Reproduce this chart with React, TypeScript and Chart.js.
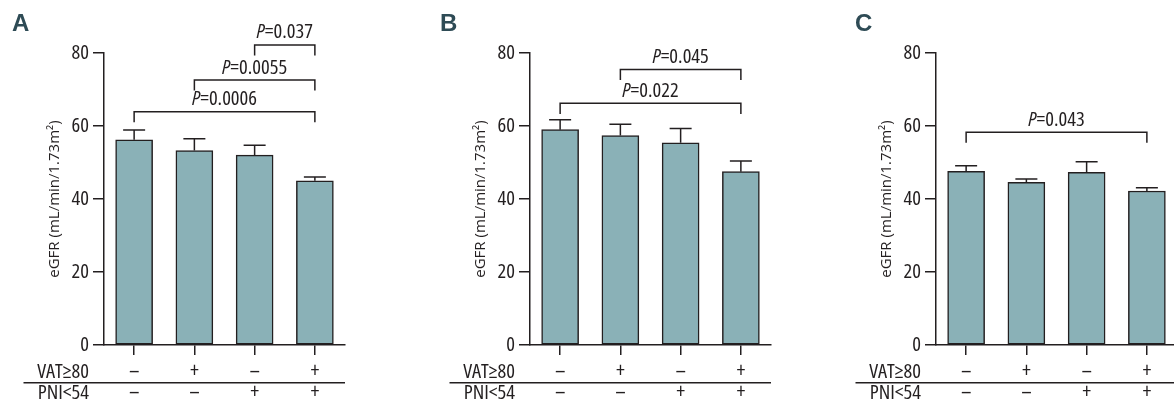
import React, { useEffect, useRef } from 'react';
import { Chart, registerables } from 'chart.js';

Chart.register(...registerables);

// ---- data ----
const vatRow = ['–', '+', '–', '+'];
const pniRow = ['–', '–', '+', '+'];
const rowLabels = ['VAT≥80', 'PNI<54'];
const yTickValues = [0, 20, 40, 60, 80];
const yTitle = 'eGFR (mL/min/1.73m²)';

const meansA = [56.2, 53.3, 52.0, 45.0];
const errA = [2.7, 3.2, 2.7, 1.0];
const meansB = [59.0, 57.4, 55.4, 47.5];
const errB = [2.7, 3.1, 3.9, 2.9];
const meansC = [47.6, 44.6, 47.3, 42.2];
const errC = [1.5, 0.9, 2.9, 0.9];

const bracketsA = [
  { from: 0, to: 3, y: 63.9, p: '0.0006' },
  { from: 1, to: 3, y: 72.6, p: '0.0055' },
  { from: 2, to: 3, y: 82.2, p: '0.037' },
];
const bracketsB = [
  { from: 0, to: 3, y: 66.2, p: '0.022' },
  { from: 1, to: 3, y: 75.5, p: '0.045' },
];
const bracketsC = [{ from: 0, to: 3, y: 58.3, p: '0.043' }];

// ---- styles ----
const COND = '"Open Sans", "DejaVu Sans Condensed", sans-serif';
const COND_WEIGHT = 'condensed';
const FS = 20.5;
const TITLE_FAMILY = '"Open Sans", "Liberation Sans", sans-serif';
const LETTER_FAMILY = '"Liberation Sans", "DejaVu Sans", sans-serif';
const INK = '#231f20';
const BAR = '#8ab1b7';
const LETTER = '#2e4b55';
const LEG = 2.9;

type Bracket = { from: number; to: number; y: number; p: string };

function Panel(props: {
  letter: string;
  means: number[];
  errs: number[];
  brackets: Bracket[];
  left: number;
  letterX: number;
}) {
  const ref = useRef<HTMLCanvasElement | null>(null);
  useEffect(() => {
    const canvas = ref.current;
    if (!canvas) return;
    const { letter, means, errs, brackets, letterX } = props;
    const labels = vatRow.map((v, i) => [v, pniRow[i]]);

    const annot = {
      id: 'annot',
      afterDatasetsDraw(chart: any) {
        const ctx = chart.ctx as CanvasRenderingContext2D;
        const ys = chart.scales.y;
        const bars = chart.getDatasetMeta(0).data;
        ctx.save();
        ctx.strokeStyle = INK;
        ctx.lineWidth = 1.5;
        // error bars (upper only)
        errs.forEach((e, i) => {
          const cx = bars[i].x;
          const y0 = ys.getPixelForValue(means[i]);
          const y1 = ys.getPixelForValue(means[i] + e);
          ctx.beginPath();
          ctx.moveTo(cx, y0);
          ctx.lineTo(cx, y1);
          ctx.moveTo(cx - 11, y1);
          ctx.lineTo(cx + 11, y1);
          ctx.stroke();
        });
        // significance brackets
        brackets.forEach((b) => {
          const x1 = bars[b.from].x;
          const x2 = bars[b.to].x;
          const yb = ys.getPixelForValue(b.y);
          const yl = ys.getPixelForValue(b.y - LEG);
          ctx.beginPath();
          ctx.moveTo(x1, yl);
          ctx.lineTo(x1, yb);
          ctx.lineTo(x2, yb);
          ctx.lineTo(x2, yl);
          ctx.stroke();
          const italic = `italic ${COND_WEIGHT} ${FS}px ${COND}`;
          const normal = `${COND_WEIGHT} ${FS}px ${COND}`;
          const rest = '=' + b.p;
          ctx.font = italic;
          const wP = ctx.measureText('P').width;
          ctx.font = normal;
          const wR = ctx.measureText(rest).width;
          const sx = (x1 + x2) / 2 - (wP + wR) / 2;
          const by = yb - 6.5;
          ctx.fillStyle = INK;
          ctx.textBaseline = 'alphabetic';
          ctx.textAlign = 'left';
          ctx.font = italic;
          ctx.fillText('P', sx, by);
          ctx.font = normal;
          ctx.fillText(rest, sx + wP, by);
        });
        ctx.restore();
      },
      afterDraw(chart: any) {
        const ctx = chart.ctx as CanvasRenderingContext2D;
        const area = chart.chartArea;
        ctx.save();
        // panel letter
        ctx.fillStyle = LETTER;
        ctx.font = `bold 24px ${LETTER_FAMILY}`;
        ctx.textAlign = 'left';
        ctx.textBaseline = 'alphabetic';
        ctx.fillText(letter, letterX, 30.5);
        // row labels
        ctx.fillStyle = INK;
        ctx.font = `${COND_WEIGHT} ${FS}px ${COND}`;
        ctx.textAlign = 'right';
        ctx.textBaseline = 'middle';
        ctx.fillText(rowLabels[0], 89, 372);
        ctx.fillText(rowLabels[1], 89, 393);
        // separator
        ctx.strokeStyle = INK;
        ctx.lineWidth = 1.5;
        ctx.beginPath();
        ctx.moveTo(23.5, 382.7);
        ctx.lineTo(area.right, 382.7);
        ctx.stroke();
        ctx.restore();
      },
    };

    const chart = new Chart(canvas, {
      type: 'bar',
      data: {
        labels,
        datasets: [
          {
            data: means,
            backgroundColor: BAR,
            borderColor: INK,
            borderWidth: 1.5,
            borderSkipped: false,
            barThickness: 37,
          },
        ],
      },
      options: {
        responsive: false,
        animation: false,
        devicePixelRatio: 1,
        layout: { padding: { top: 53, right: 55, left: 0, bottom: 0 } },
        plugins: { legend: { display: false }, tooltip: { enabled: false } },
        scales: {
          x: {
            type: 'category',
            grid: {
              display: true,
              drawOnChartArea: false,
              drawTicks: true,
              tickLength: 10,
              offset: false,
              color: INK,
              lineWidth: 1.5,
            },
            border: { display: true, color: INK, width: 1.5 },
            ticks: {
              color: INK,
              padding: 6.5,
              maxRotation: 0,
              autoSkip: false,
              font: { family: COND, weight: COND_WEIGHT, size: 21, lineHeight: '21px' },
            },
            afterFit(scale: any) {
              scale.height = 56;
            },
          },
          y: {
            min: 0,
            max: 80,
            afterBuildTicks(scale: any) {
              scale.ticks = yTickValues.map((v) => ({ value: v }));
            },
            grid: {
              display: true,
              drawOnChartArea: false,
              drawTicks: true,
              tickLength: 11,
              color: INK,
              lineWidth: 1.5,
            },
            border: { display: true, color: INK, width: 1.5 },
            ticks: {
              color: INK,
              padding: 4,
              font: { family: COND, weight: COND_WEIGHT, size: FS },
            },
            title: {
              display: true,
              text: yTitle,
              color: INK,
              font: { family: TITLE_FAMILY, size: 15 },
              padding: { top: 46, bottom: 0 },
            },
            afterFit(scale: any) {
              scale.width = 104;
            },
          },
        },
      },
      plugins: [annot],
    } as any);
    return () => chart.destroy();
  }, []);
  return (
    <canvas
      ref={ref}
      width={400}
      height={401}
      style={{ position: 'absolute', left: props.left, top: 0, width: 400, height: 401 }}
    />
  );
}

export default function App() {
  return (
    <div
      style={{
        position: 'fixed',
        left: 0,
        top: 0,
        width: 1174,
        height: 401,
        overflow: 'hidden',
        background: '#ffffff',
      }}
    >
      <Panel letter="A" means={meansA} errs={errA} brackets={bracketsA} left={0} letterX={12} />
      <Panel letter="B" means={meansB} errs={errB} brackets={bracketsB} left={426} letterX={14} />
      <Panel letter="C" means={meansC} errs={errC} brackets={bracketsC} left={832} letterX={23} />
    </div>
  );
}
